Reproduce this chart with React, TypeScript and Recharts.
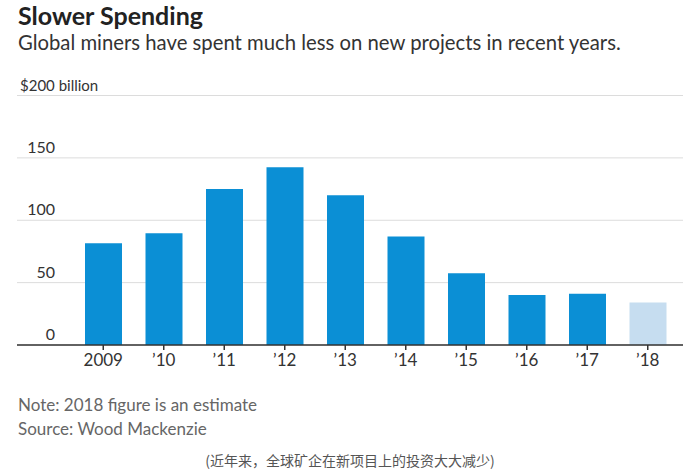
import React from "react";
import { BarChart, Bar, XAxis, YAxis, CartesianGrid, Cell } from "recharts";

const years = ["2009", "’10", "’11", "’12", "’13", "’14", "’15", "’16", "’17", "’18"];
const spending = [81.5, 89.5, 125, 142.5, 120, 87, 57.5, 40, 41, 34];
const estimateFlags = [false, false, false, false, false, false, false, false, false, true];
const yTicks = [0, 50, 100, 150, 200];

const data = years.map((y, i) => ({ year: y, value: spending[i], est: estimateFlags[i] }));

const FONT = "Lato, 'Noto Sans', sans-serif";
const BLUE = "#0b8fd5";
const LIGHT = "#c6ddf0";

const YTick = (props: any) => {
  const { y, payload } = props;
  const v = payload.value;
  if (v === 200) {
    return (
      <text x={20} y={y - 5} fontSize={15} fill="#333" fontFamily={FONT} textAnchor="start">
        $200 billion
      </text>
    );
  }
  return (
    <text x={55} y={y - 5} fontSize={16} fill="#333" fontFamily={FONT} textAnchor="end">
      {v}
    </text>
  );
};

const XTick = (props: any) => {
  const { x, y, payload } = props;
  return (
    <text x={x} y={y + 14} fontSize={17} fill="#333" fontFamily={FONT} textAnchor="middle">
      {payload.value}
    </text>
  );
};

export default function App() {
  return (
    <div style={{ position: "absolute", left: 0, top: 0, width: 700, height: 472, background: "#fff", fontFamily: FONT, overflow: "hidden" }}>
      <div style={{ position: "absolute", left: 18, top: 0, fontSize: 25, fontWeight: 700, color: "#222", lineHeight: "30px" }}>
        Slower Spending
      </div>
      <div style={{ position: "absolute", left: 18, top: 30, fontSize: 20.3, color: "#333", lineHeight: "24px" }}>
        Global miners have spent much less on new projects in recent years.
      </div>
      <div style={{ position: "absolute", left: 0, top: 0 }}>
        <BarChart width={700} height={385} data={data} margin={{ top: 95.5, right: 17, bottom: 0, left: 16 }}>
          <CartesianGrid vertical={false} stroke="#dcdcdc" strokeWidth={1} />
          <YAxis
            domain={[0, 200]}
            ticks={yTicks}
            width={1}
            axisLine={false}
            tickLine={false}
            tick={<YTick />}
            interval={0}
          />
          <XAxis
            dataKey="year"
            height={40}
            padding={{ left: 56, right: 5 }}
            axisLine={{ stroke: "#333", strokeWidth: 1.5 }}
            tickLine={{ stroke: "#333", strokeWidth: 1.5 }}
            tickSize={5}
            tick={<XTick />}
            interval={0}
          />
          <Bar dataKey="value" barSize={37} isAnimationActive={false}>
            {data.map((d, i) => (
              <Cell key={i} fill={d.est ? LIGHT : BLUE} />
            ))}
          </Bar>
        </BarChart>
      </div>
      <div style={{ position: "absolute", left: 18, top: 393, fontSize: 17, color: "#666", lineHeight: "24px" }}>
        Note: 2018 figure is an estimate
      </div>
      <div style={{ position: "absolute", left: 18, top: 417, fontSize: 17, color: "#666", lineHeight: "24px" }}>
        Source: Wood Mackenzie
      </div>
      <div style={{ position: "absolute", left: 0, width: 700, top: 450, textAlign: "center", fontSize: 14, color: "#555", lineHeight: "20px", fontFamily: "'Noto Sans CJK SC', sans-serif" }}>
        (近年来，全球矿企在新项目上的投资大大减少)
      </div>
    </div>
  );
}
